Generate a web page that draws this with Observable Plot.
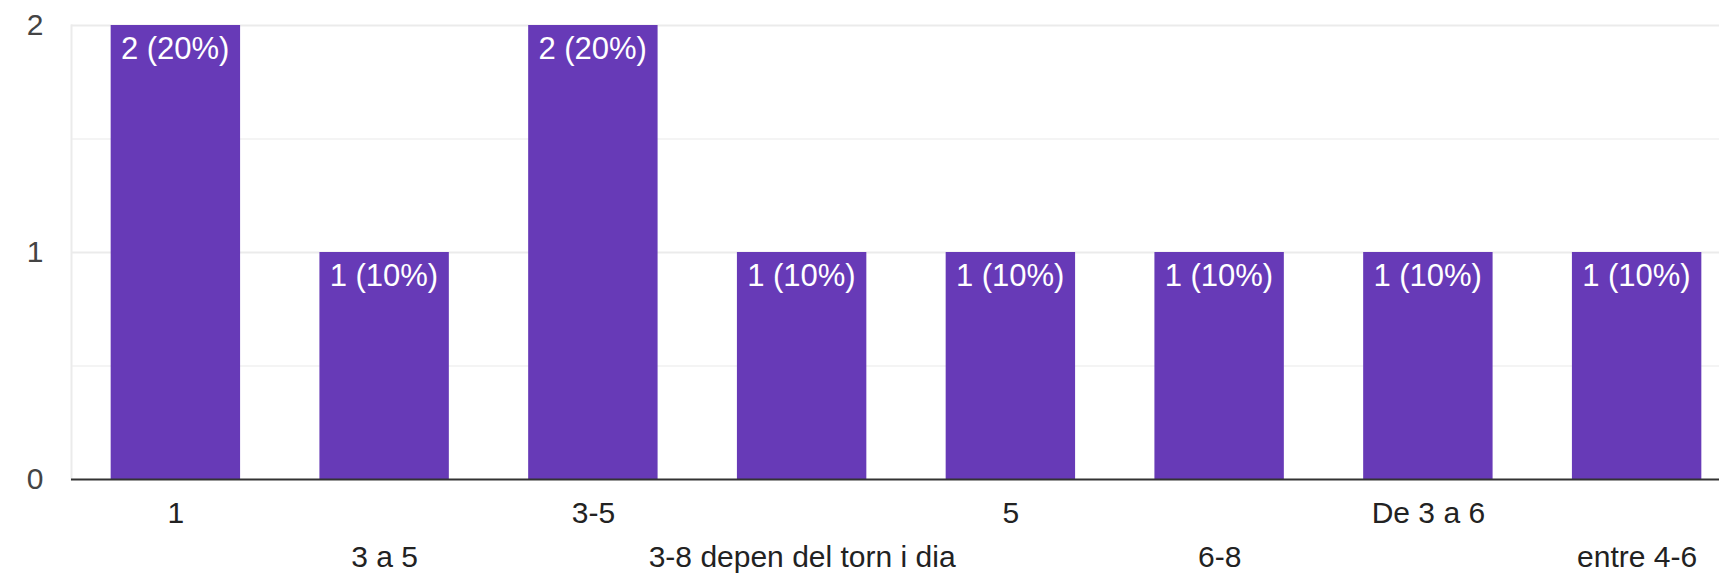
<!DOCTYPE html>
<html>
<head>
<meta charset="utf-8">
<script src="https://cdn.jsdelivr.net/npm/d3@7"></script>
<script src="https://cdn.jsdelivr.net/npm/@observablehq/plot@0.6"></script>
<style>
  html, body { margin: 0; padding: 0; background: #ffffff; overflow: hidden; }
  #chart svg { display: block; }
</style>
</head>
<body>
<div id="chart"></div>
<script>
const categories = ["1", "3 a 5", "3-5", "3-8 depen del torn i dia", "5", "6-8", "De 3 a 6", "entre 4-6"];
const counts = [2, 1, 2, 1, 1, 1, 1, 1];
const percents = [20, 10, 20, 10, 10, 10, 10, 10];
const yTicks = [0, 1, 2];
const yMinorTicks = [0.5, 1.5];

const data = categories.map((c, i) => ({cat: c, count: counts[i], pct: percents[i]}));
const rowOne = categories.filter((d, i) => i % 2 === 0);
const rowTwo = categories.filter((d, i) => i % 2 === 1);

const chart = Plot.plot({
  width: 1719,
  height: 579,
  marginLeft: 71,
  marginRight: 0,
  marginTop: 25,
  marginBottom: 100,
  style: {fontFamily: "'Liberation Sans', Arial, sans-serif", fontSize: "30px", background: "#ffffff", overflow: "hidden"},
  x: {domain: categories, range: [71, 1741], paddingInner: 0.38, paddingOuter: 0.19, round: false, axis: null},
  y: {domain: [0, 2], axis: null},
  marks: [
    Plot.ruleY(yMinorTicks, {stroke: "#f4f4f4", strokeWidth: 2}),
    Plot.ruleY([1, 2], {stroke: "#ebebeb", strokeWidth: 2}),
    Plot.frame({anchor: "left", stroke: "#ebebeb", strokeWidth: 2}),
    Plot.barY(data, {x: "cat", y: "count", fill: "#673ab7"}),
    Plot.text(data, {
      x: "cat", y: "count",
      text: d => `${d.count} (${d.pct}%)`,
      textAnchor: "start", lineAnchor: "top",
      dx: -55, dy: 11,
      fill: "#ffffff", fontSize: 31
    }),
    Plot.ruleY([0], {stroke: "#333333", strokeWidth: 2}),
    Plot.axisY(yTicks, {tickSize: 0, tickPadding: 28, tickFormat: d3.format("d"), label: null, fill: "#444444", fontSize: 30}),
    Plot.axisX(rowOne, {tickSize: 0, tickPadding: 22, label: null, fill: "#222222", fontSize: 30}),
    Plot.axisX(rowTwo, {tickSize: 0, tickPadding: 66, label: null, fill: "#222222", fontSize: 30})
  ]
});
document.getElementById("chart").appendChild(chart);
</script>
</body>
</html>
